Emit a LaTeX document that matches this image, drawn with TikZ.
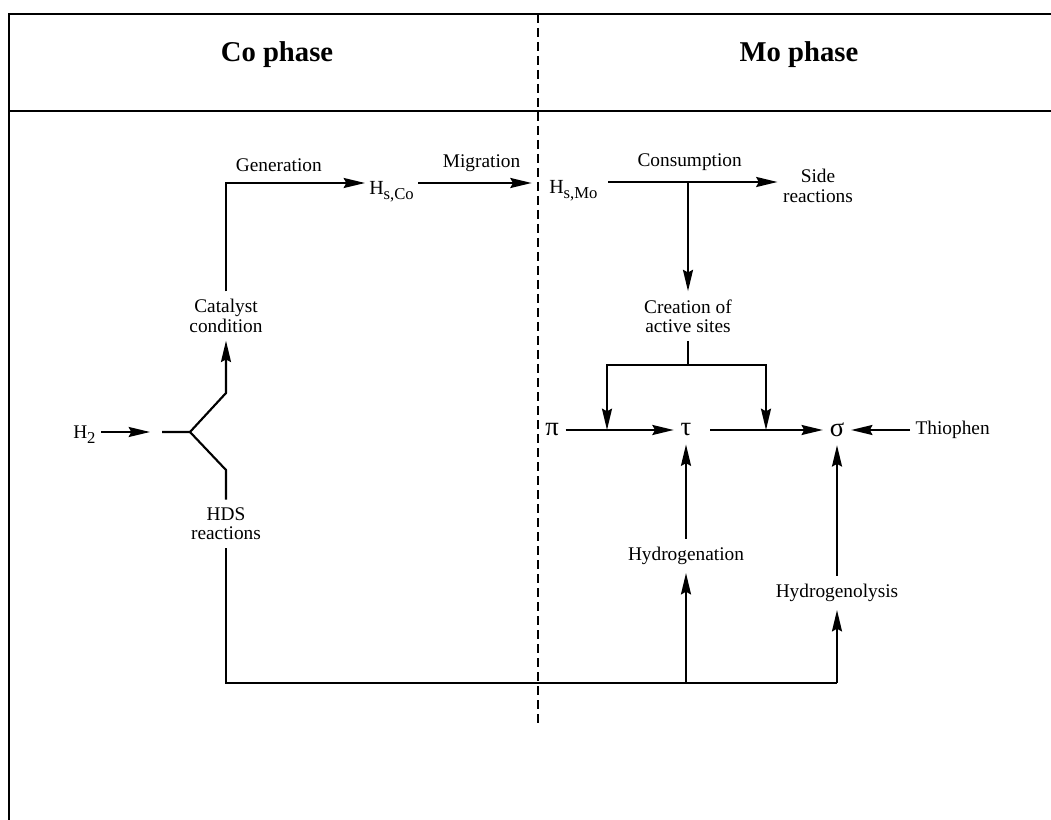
\documentclass[tikz,border=0pt]{standalone}
\usepackage{fontspec}
\setmainfont{Liberation Serif}
\usetikzlibrary{positioning, calc, arrows.meta}
\tikzset{lbl/.style={font=\fontsize{14.5}{14.5}\selectfont, align=center, inner xsep=4pt, inner ysep=6pt}}
\tikzset{species/.style={font=\fontsize{15}{15}\selectfont, inner xsep=3pt, text height=17pt, text depth=0pt}}
\tikzset{phase/.style={font=\fontsize{21.5}{24}\selectfont\bfseries}}
\tikzset{greek/.style={font=\fontsize{20}{20}\selectfont, inner xsep=5pt, inner ysep=6pt}}
\tikzset{flow/.style={line width=1.6pt}}
\tikzset{arr/.style={flow, -{Stealth[length=16pt, width=7.5pt, inset=2pt]}}}
\tikzset{divider/.style={line width=1.7pt, dash pattern=on 7pt off 3.5pt}}
\newcommand{\lowsub}[1]{\raisebox{-0.6ex}{\fontsize{12.5}{12.5}\selectfont #1}}

\begin{document}
\begin{tikzpicture}[x=0.75pt, y=-0.75pt]
  \useasboundingbox (0,0) rectangle (1051,820);

  % frame, header and phase border
  \draw[line width=2.2pt] (1051,14) -- (9,14) -- (9,820);
  \draw[line width=1.6pt] (9,111) -- (1051,111);
  \draw[divider] (538,14) -- (538,728);
  \node[phase] (cophase) at (277,55) {Co phase};
  \node[phase] (mophase) at (799,55) {Mo phase};

  % Co phase
  \node[lbl, anchor=base west, inner xsep=0pt] (h2) at (73,438) {H\lowsub{2}};
  \node[lbl] (catalyst) at (226,316) {Catalyst\\condition};
  \node[lbl] (hds) at (226,524) {HDS\\reactions};
  \node[species, anchor=west] (hsco) at (365,183) {H\lowsub{s,Co}};

  \coordinate (h2in) at (150,432);
  \coordinate (forkin) at (162,432);
  \coordinate (fork) at (190,432);
  \coordinate (up) at (226,393);
  \coordinate (down) at (226,470);

  \draw[arr, shorten <=4pt] (h2in -| h2.east) -- (h2in);
  \draw[arr] (forkin) -- (fork) -- (up) -- (catalyst.south);
  \draw[flow] (fork) -- (down) -- (hds.north);
  \draw[arr] (catalyst.north) |- node[lbl, pos=0.69, above=2pt] (gen) {Generation} (hsco.west);

  % Mo phase
  \node[species, anchor=west] (hsmo) at (545,182) {H\lowsub{s,Mo}};
  \node[lbl] (side) at (818,186) {Side\\reactions};
  \node[lbl] (creation) at (688,316) {Creation of\\active sites};

  \node[greek] (pi) at (552,430) {π};
  \node[greek] (tau) at (686,430) {τ};
  \node[greek] (sigma) at (837,430) {σ};
  \node[lbl, anchor=west] (thiophen) at (910,430) {Thiophen};

  \node[lbl] (hydrogenation) at (686,556) {Hydrogenation};
  \node[lbl] (hydrogenolysis) at (837,593) {Hydrogenolysis};

  \draw[arr, shorten >=10pt] (hsco.east) -- node[lbl, above=2pt] (mig) {Migration} (hsco.east -| hsmo.west);
  \draw[arr, shorten <=5pt] (hsmo.east) -- node[lbl, above=2pt] (cons) {Consumption} (side.west |- hsmo.east);
  \draw[arr] (hsmo.east -| creation) -- (creation.north);

  \coordinate (branch) at (688,365);
  \coordinate (dropl) at (607,430);
  \coordinate (dropr) at (766,430);
  \draw[arr] (creation.south) -- (branch) -| (dropl);
  \draw[arr] (branch) -| (dropr);

  \draw[arr] (pi) -- (tau);
  \draw[arr, shorten <=9pt] (tau) -- (sigma);
  \draw[arr] (thiophen) -- (sigma);

  \coordinate (hgen) at (hydrogenation |- 0,683);
  \coordinate (hlys) at (hydrogenolysis |- 0,683);
  \draw[flow] (hds.south) |- (hlys);
  \draw[arr] (hgen) -- (hydrogenation.south);
  \draw[arr] (hlys) -- (hydrogenolysis.south);
  \draw[arr] (hydrogenation.north) -- (tau.south);
  \draw[arr] (hydrogenolysis.north) -- (sigma.south);

\end{tikzpicture}
\end{document}
